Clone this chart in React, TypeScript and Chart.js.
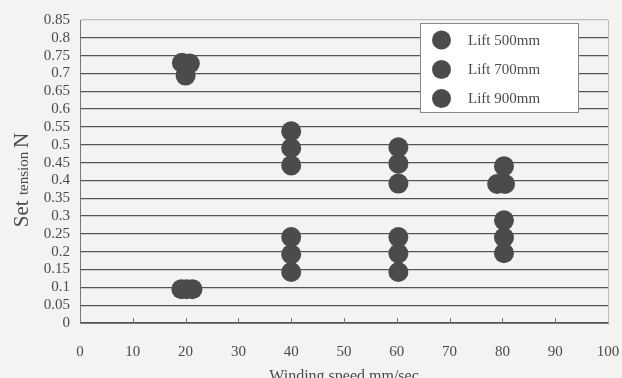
import React, { useEffect, useRef } from "react";
import { Chart, registerables } from "chart.js";

Chart.register(...registerables);

const seriesLabels = ["Lift 500mm", "Lift 700mm", "Lift 900mm"];
const speed500 = [19.3, 19.2, 40, 40, 60.3, 60.3, 80.3, 80.3];
const tension500 = [0.73, 0.095, 0.538, 0.241, 0.493, 0.241, 0.44, 0.288];
const speed700 = [20.8, 20.2, 40, 40, 60.3, 60.3, 79.0, 80.3];
const tension700 = [0.728, 0.095, 0.491, 0.193, 0.447, 0.195, 0.39, 0.24];
const speed900 = [20, 21.3, 40, 40, 60.3, 60.3, 80.5, 80.3];
const tension900 = [0.694, 0.095, 0.442, 0.143, 0.391, 0.143, 0.39, 0.196];
const xTicks = [0, 10, 20, 30, 40, 50, 60, 70, 80, 90, 100];

const FONT = "'Liberation Serif', 'Times New Roman', serif";
const TEXT = "#4a4a4a";
const MARK = "#4b4b4b";

const toPoints = (xs: number[], ys: number[]) => xs.map((x, i) => ({ x, y: ys[i] }));

const decorPlugin = {
  id: "decor",
  beforeDraw(chart: any) {
    const { ctx, width, height } = chart;
    ctx.save();
    ctx.fillStyle = "#f3f3f2";
    ctx.fillRect(0, 0, width, height);
    ctx.restore();
  },
  afterDraw(chart: any) {
    const { ctx, chartArea } = chart;
    const xs = chart.scales.x;
    ctx.save();
    ctx.strokeStyle = "#777";
    ctx.lineWidth = 1;
    xTicks.forEach((t) => {
      const px = Math.round(xs.getPixelForValue(t)) + 0.5;
      ctx.beginPath();
      ctx.moveTo(px, chartArea.bottom);
      ctx.lineTo(px, chartArea.bottom - 5);
      ctx.stroke();
    });
    ctx.strokeStyle = "#bbb";
    ctx.beginPath();
    ctx.moveTo(chartArea.right + 0.5, chartArea.top);
    ctx.lineTo(chartArea.right + 0.5, chartArea.bottom);
    ctx.stroke();

    ctx.fillStyle = TEXT;
    ctx.translate(28, 180);
    ctx.rotate(-Math.PI / 2);
    const parts: [string, number][] = [["Set ", 21], ["tension ", 15], ["N", 21]];
    let total = 0;
    parts.forEach(([s, sz]) => {
      ctx.font = `${sz}px ${FONT}`;
      total += ctx.measureText(s).width;
    });
    let cx = -total / 2;
    ctx.textBaseline = "alphabetic";
    ctx.textAlign = "left";
    parts.forEach(([s, sz]) => {
      ctx.font = `${sz}px ${FONT}`;
      ctx.fillText(s, cx, 0);
      cx += ctx.measureText(s).width;
    });
    ctx.setTransform(1, 0, 0, 1, 0, 0);

    ctx.font = `16px ${FONT}`;
    ctx.textAlign = "center";
    ctx.textBaseline = "alphabetic";
    ctx.fillText("Winding speed mm/sec", (chartArea.left + chartArea.right) / 2, 381);

    const lx = 420, ly = 23, lw = 158, lh = 89;
    ctx.fillStyle = "#ffffff";
    ctx.fillRect(lx, ly, lw, lh);
    ctx.strokeStyle = "#8a8a8a";
    ctx.lineWidth = 1;
    ctx.strokeRect(lx + 0.5, ly + 0.5, lw, lh);
    const rows = [40, 69.5, 98.5];
    chart.data.datasets.forEach((ds: any, i: number) => {
      ctx.fillStyle = MARK;
      ctx.beginPath();
      ctx.arc(441.5, rows[i], 9.5, 0, Math.PI * 2);
      ctx.fill();
      ctx.fillStyle = TEXT;
      ctx.font = `15px ${FONT}`;
      ctx.textAlign = "left";
      ctx.textBaseline = "middle";
      ctx.fillText(ds.label, 468, rows[i] + 1);
    });
    ctx.restore();
  },
};

export default function App() {
  const ref = useRef<HTMLCanvasElement>(null);
  useEffect(() => {
    if (!ref.current) return;
    const mk = (label: string, xs: number[], ys: number[]) => ({
      label,
      data: toPoints(xs, ys),
      backgroundColor: MARK,
      borderColor: MARK,
      borderWidth: 0,
      pointRadius: 10,
      pointHoverRadius: 10,
    });
    const chart = new Chart(ref.current, {
      type: "scatter",
      data: {
        datasets: [
          mk(seriesLabels[0], speed500, tension500),
          mk(seriesLabels[1], speed700, tension700),
          mk(seriesLabels[2], speed900, tension900),
        ],
      },
      options: {
        animation: false,
        responsive: false,
        layout: { padding: { top: 20, right: 0, left: 0, bottom: 0 } },
        plugins: { legend: { display: false }, tooltip: { enabled: false } },
        scales: {
          x: {
            type: "linear",
            min: 0,
            max: 100,
            afterBuildTicks: (s: any) => {
              s.ticks = xTicks.map((v) => ({ value: v }));
            },
            afterFit: (s: any) => {
              s.height = 55;
              s.paddingLeft = 0;
              s.paddingRight = 14;
            },
            grid: { display: false, drawTicks: false },
            border: { display: true, color: "#777", width: 1 },
            ticks: {
              padding: 20,
              color: TEXT,
              font: { family: FONT, size: 15 },
              maxRotation: 0,
              autoSkip: false,
            },
          },
          y: {
            type: "linear",
            min: 0,
            max: 0.85,
            ticks: {
              stepSize: 0.05,
              padding: 10,
              autoSkip: false,
              color: TEXT,
              font: { family: FONT, size: 15 },
              callback: (v: any) => String(Number(Number(v).toFixed(2))),
            },
            afterFit: (s: any) => {
              s.width = 80;
              s.paddingTop = 0;
              s.paddingBottom = 0;
            },
            grid: {
              drawTicks: false,
              color: (c: any) => (c.tick && Math.abs(c.tick.value - 0.85) < 1e-6 ? "#bdbdbd" : "#555"),
              lineWidth: 1.3,
            },
            border: { display: true, color: "#777", width: 1 },
          },
        },
      },
      plugins: [decorPlugin],
    } as any);
    return () => chart.destroy();
  }, []);
  return (
    <div style={{ position: "absolute", left: 0, top: 0, width: 622, height: 378, background: "#f3f3f2" }}>
      <canvas ref={ref} width={622} height={378} style={{ display: "block" }} />
    </div>
  );
}
